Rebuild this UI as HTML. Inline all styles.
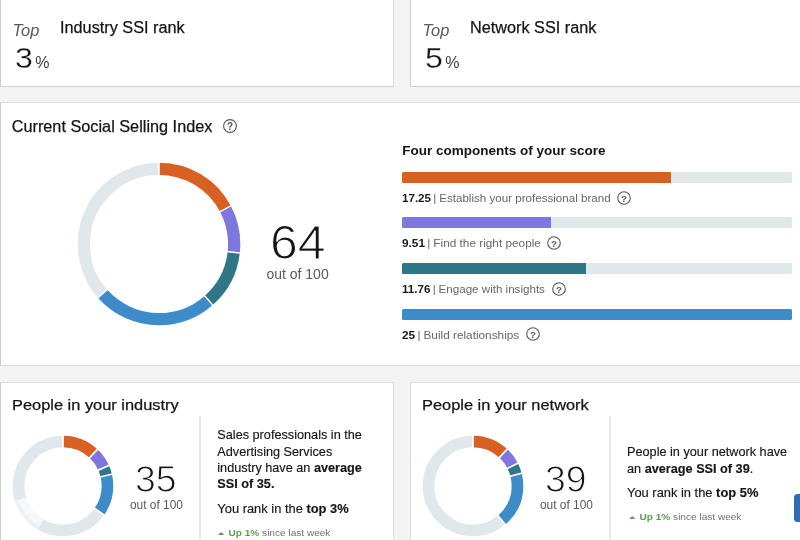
<!DOCTYPE html>
<html><head><meta charset="utf-8">
<style>
*{box-sizing:border-box;margin:0;padding:0}
html,body{width:800px;height:540px;overflow:hidden;background:#f3f3f3;font-family:"Liberation Sans",sans-serif;color:#1c1c1c}
#root{position:absolute;left:0;top:0;width:800px;height:540px;overflow:hidden;will-change:transform;opacity:0.9999}
.card{position:absolute;background:#fff;border:1px solid #dedede}
.lc{border-left-color:#cdcdcd}
.tc{border-bottom-color:#d2d2d2}
.abs{position:absolute;white-space:nowrap}
.top{font-style:italic;font-size:16.5px;color:#5a5a5a}
.ttl{font-size:16.25px;color:#151515;-webkit-text-stroke:0.25px #151515}
.big{font-size:30px;color:#151515;-webkit-text-stroke:0.3px #fff;transform:scaleX(1.07);transform-origin:0 0}
.pct{font-size:16px;color:#3c3c3c}
.h{font-size:16.27px;color:#151515;-webkit-text-stroke:0.25px #151515}
.h2{font-size:15.4px;color:#151515;-webkit-text-stroke:0.25px #151515;transform:scaleX(1.065);transform-origin:0 0}
.lbl{font-size:11.6px;color:#666}
.lbl u{text-decoration:none;margin:0 -0.4px 0 -0.9px}
.lbl b{color:#1a1a1a}
.bar{position:absolute;left:402px;width:390px;height:11px;background:#e1e8ec;border-radius:1.5px;overflow:hidden}
.bar i{position:absolute;left:0;top:0;height:11px;display:block}
.p{font-size:12.7px;line-height:16.4px;color:#151515;-webkit-text-stroke:0.15px #151515}
.sm{font-size:9.6px;color:#707070;transform:scaleX(1.05);transform-origin:0 0}
.sm b{color:#5a9f4e}
.n1{font-size:48.6px;color:#151515;-webkit-text-stroke:1.15px #fff;transform:scaleX(1.03);transform-origin:0 0}
.o1{font-size:14px;color:#5a5a5a}
.n2{font-size:36px;color:#151515;-webkit-text-stroke:1px #fff;transform:scaleX(1.04);transform-origin:0 0}
.o2{font-size:11.9px;color:#5a5a5a}
.tri{display:inline-block;width:0;height:0;border-left:3px solid transparent;border-right:3px solid transparent;border-bottom:3.4px solid #5f9a52;margin-right:4px;vertical-align:1.5px}
.q{position:absolute}
</style></head><body><div id="root">
<!-- top cards -->
<div class="card lc tc" style="left:0px;top:-1px;width:394px;height:88px"></div>
<div class="card tc" style="left:410px;top:-1px;width:395px;height:88px;border-left-color:#d2d2d2"></div>
<div class="abs top" style="left:12.5px;top:21px">Top</div>
<div class="abs ttl" style="left:60px;top:18px">Industry SSI rank</div>
<div class="abs big" style="left:14.5px;top:41.1px">3</div>
<div class="abs pct" style="left:35.2px;top:54px">%</div>
<div class="abs top" style="left:422.5px;top:21px">Top</div>
<div class="abs ttl" style="left:470px;top:18px">Network SSI rank</div>
<div class="abs big" style="left:424.5px;top:41.1px">5</div>
<div class="abs pct" style="left:445.2px;top:54px">%</div>

<!-- middle card -->
<div class="card lc" style="left:0px;top:102px;width:806px;height:264px"></div>
<div class="abs h" style="left:11.7px;top:116.7px">Current Social Selling Index</div>
<svg class="q" style="left:222px;top:118px" width="16" height="16" viewBox="0 0 16 16"><circle cx="8" cy="8" r="6.4" fill="none" stroke="#555" stroke-width="1.1"/><text x="8" y="11.6" font-size="10" font-weight="bold" text-anchor="middle" fill="#555" font-family="Liberation Sans">?</text></svg>

<svg class="abs" style="left:69px;top:153.8px" width="180" height="180" viewBox="-90 -90 180 180">
<g fill="none" stroke-width="12.2" transform="rotate(-90)">
<circle r="75.2" stroke="#e1e8ec"/>
<circle r="75.2" stroke="#d86023" pathLength="100" stroke-dasharray="17.25 100" stroke-dashoffset="0"/>
<circle r="75.2" stroke="#7f76e0" pathLength="100" stroke-dasharray="9.51 100" stroke-dashoffset="-17.25"/>
<circle r="75.2" stroke="#2f7686" pathLength="100" stroke-dasharray="11.76 100" stroke-dashoffset="-26.76"/>
<circle r="75.2" stroke="#3d8cc9" pathLength="100" stroke-dasharray="25 100" stroke-dashoffset="-38.52"/>
<line x1="68" x2="83" y1="0" y2="0" stroke="#fff" stroke-width="1.5" transform="rotate(0.00)"/><line x1="68" x2="83" y1="0" y2="0" stroke="#fff" stroke-width="1.5" transform="rotate(62.10)"/><line x1="68" x2="83" y1="0" y2="0" stroke="#fff" stroke-width="1.5" transform="rotate(96.34)"/><line x1="68" x2="83" y1="0" y2="0" stroke="#fff" stroke-width="1.5" transform="rotate(138.67)"/><line x1="68" x2="83" y1="0" y2="0" stroke="#fff" stroke-width="1.5" transform="rotate(228.67)"/>
</g>
</svg>
<div class="abs n1" style="left:270.2px;top:214.2px">64</div>
<div class="abs o1" style="left:266.4px;top:266px">out of 100</div>

<div class="abs" style="left:402.3px;top:142.6px;font-size:13.5px;font-weight:bold;color:#151515">Four components of your score</div>
<div class="bar" style="top:172px"><i style="width:269px;background:#d86023"></i></div>
<div class="abs lbl" style="left:402px;top:190.5px"><b>17.25</b> <u>|</u> Establish your professional brand</div>
<div class="bar" style="top:217.2px"><i style="width:148.5px;background:#7f76e0"></i></div>
<div class="abs lbl" style="left:402px;top:236px;font-size:11.8px"><b>9.51</b> <u>|</u> Find the right people</div>
<div class="bar" style="top:263px"><i style="width:184px;background:#2f7686"></i></div>
<div class="abs lbl" style="left:402px;top:282.1px"><b>11.76</b> <u>|</u> Engage with insights</div>
<div class="bar" style="top:308.5px"><i style="width:390px;background:#3d8cc9"></i></div>
<div class="abs lbl" style="left:402px;top:327.6px;font-size:11.8px"><b>25</b> <u>|</u> Build relationships</div>

<svg class="q" style="left:615.9px;top:189.5px" width="16" height="16" viewBox="0 0 16 16"><circle cx="8" cy="8" r="6.3" fill="none" stroke="#555" stroke-width="1.1"/><text x="8" y="11.5" font-size="9.8" font-weight="bold" text-anchor="middle" fill="#5c5c5c" font-family="Liberation Sans">?</text></svg>
<svg class="q" style="left:546.3px;top:235.4px" width="16" height="16" viewBox="0 0 16 16"><circle cx="8" cy="8" r="6.3" fill="none" stroke="#555" stroke-width="1.1"/><text x="8" y="11.5" font-size="9.8" font-weight="bold" text-anchor="middle" fill="#5c5c5c" font-family="Liberation Sans">?</text></svg>
<svg class="q" style="left:550.7px;top:280.8px" width="16" height="16" viewBox="0 0 16 16"><circle cx="8" cy="8" r="6.3" fill="none" stroke="#555" stroke-width="1.1"/><text x="8" y="11.5" font-size="9.8" font-weight="bold" text-anchor="middle" fill="#5c5c5c" font-family="Liberation Sans">?</text></svg>
<svg class="q" style="left:525.2px;top:326.2px" width="16" height="16" viewBox="0 0 16 16"><circle cx="8" cy="8" r="6.3" fill="none" stroke="#555" stroke-width="1.1"/><text x="8" y="11.5" font-size="9.8" font-weight="bold" text-anchor="middle" fill="#5c5c5c" font-family="Liberation Sans">?</text></svg>
<!-- bottom cards -->
<div class="card lc" style="left:0px;top:382px;width:394px;height:170px"></div>
<div class="card" style="left:410px;top:382px;width:395px;height:170px"></div>
<div class="abs h2" style="left:11.5px;top:396px">People in your industry</div>
<div class="abs h2" style="left:421.5px;top:396px">People in your network</div>
<div class="abs" style="left:199px;top:416px;width:1.8px;height:130px;background:#e8e8e8"></div>
<div class="abs" style="left:609.1px;top:416px;width:1.9px;height:130px;background:#e8e8e8"></div>

<!-- bottom donuts -->
<svg class="abs" style="left:3.2px;top:425.8px" width="120" height="120" viewBox="-60 -60 120 120">
<g fill="none" stroke-width="11.6" transform="rotate(-90)">
<circle r="44.5" stroke="#e1e8ec"/>
<circle r="44.5" stroke="#d86023" pathLength="100" stroke-dasharray="12 100" stroke-dashoffset="0"/>
<circle r="44.5" stroke="#7f76e0" pathLength="100" stroke-dasharray="6.3 100" stroke-dashoffset="-12"/>
<circle r="44.5" stroke="#2f7686" pathLength="100" stroke-dasharray="2.9 100" stroke-dashoffset="-18.3"/>
<circle r="44.5" stroke="#3d8cc9" pathLength="100" stroke-dasharray="13.6 100" stroke-dashoffset="-21.2"/>
<circle r="44.5" stroke="#fff" stroke-opacity="0.4" pathLength="100" stroke-dasharray="11.8 100" stroke-dashoffset="-58.4"/>
<circle r="42.5" stroke="#fff" stroke-opacity="0.5" stroke-width="8" pathLength="100" stroke-dasharray="11.8 100" stroke-dashoffset="-58.4"/>
<line x1="37" x2="52" y1="0" y2="0" stroke="#fff" stroke-width="1.7" transform="rotate(0.00)"/><line x1="37" x2="52" y1="0" y2="0" stroke="#fff" stroke-width="1.7" transform="rotate(43.20)"/><line x1="37" x2="52" y1="0" y2="0" stroke="#fff" stroke-width="1.7" transform="rotate(65.88)"/><line x1="37" x2="52" y1="0" y2="0" stroke="#fff" stroke-width="1.7" transform="rotate(76.32)"/><line x1="37" x2="52" y1="0" y2="0" stroke="#fff" stroke-width="1.7" transform="rotate(125.28)"/>
</g></svg>
<div class="abs n2" style="left:134.5px;top:459px">35</div>
<div class="abs o2" style="left:130px;top:498px">out of 100</div>
<svg class="abs" style="left:413.2px;top:425.8px" width="120" height="120" viewBox="-60 -60 120 120">
<g fill="none" stroke-width="11.6" transform="rotate(-90)">
<circle r="44.5" stroke="#e1e8ec"/>
<circle r="44.5" stroke="#d86023" pathLength="100" stroke-dasharray="12 100" stroke-dashoffset="0"/>
<circle r="44.5" stroke="#7f76e0" pathLength="100" stroke-dasharray="5.6 100" stroke-dashoffset="-11.9"/>
<circle r="44.5" stroke="#2f7686" pathLength="100" stroke-dasharray="3.4 100" stroke-dashoffset="-17.5"/>
<circle r="44.5" stroke="#3d8cc9" pathLength="100" stroke-dasharray="18 100" stroke-dashoffset="-20.9"/>
<line x1="37" x2="52" y1="0" y2="0" stroke="#fff" stroke-width="1.7" transform="rotate(0.00)"/><line x1="37" x2="52" y1="0" y2="0" stroke="#fff" stroke-width="1.7" transform="rotate(42.84)"/><line x1="37" x2="52" y1="0" y2="0" stroke="#fff" stroke-width="1.7" transform="rotate(63.00)"/><line x1="37" x2="52" y1="0" y2="0" stroke="#fff" stroke-width="1.7" transform="rotate(75.24)"/><line x1="37" x2="52" y1="0" y2="0" stroke="#fff" stroke-width="1.7" transform="rotate(140.04)"/>
</g></svg>
<div class="abs n2" style="left:544.5px;top:459px">39</div>
<div class="abs o2" style="left:540px;top:498px">out of 100</div>

<div class="abs p" style="left:217.3px;top:427.2px">Sales professionals in the<br>Advertising Services<br>industry have an <b>average</b><br><b>SSI of 35.</b></div>
<div class="abs p" style="left:217.3px;top:500.5px;font-size:12.9px">You rank in the <b>top 3%</b></div>
<div class="abs sm" style="left:218px;top:527.4px"><span class="tri"></span><b>Up 1%</b> since last week</div>

<div class="abs p" style="left:627px;top:444.3px">People in your network have<br>an <b>average SSI of 39</b>.</div>
<div class="abs p" style="left:627px;top:484.6px;font-size:12.9px">You rank in the <b>top 5%</b></div>
<div class="abs sm" style="left:628.5px;top:511px"><span class="tri"></span><b>Up 1%</b> since last week</div>

<div class="abs" style="left:794.4px;top:493.9px;width:12px;height:28.2px;background:#2b6eb3;border-radius:3.5px"></div>
</div></body></html>
